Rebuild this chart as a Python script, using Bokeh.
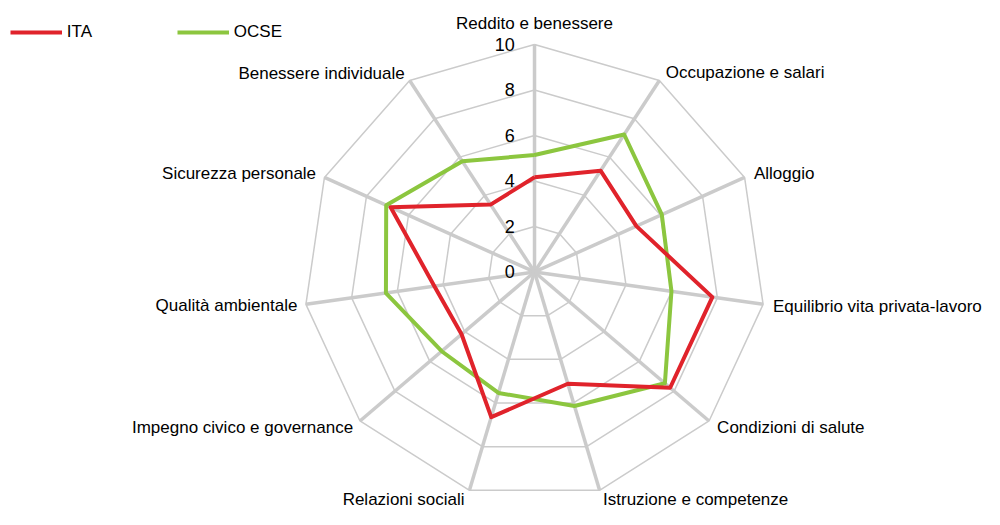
import numpy as np
from bokeh.plotting import figure
from bokeh.models import Range1d, ColumnDataSource, Legend, LegendItem
from bokeh.core.properties import value
from bokeh.embed import file_html
from bokeh.resources import INLINE

# ---------------- data ----------------
categories = [
    "Reddito e benessere",
    "Occupazione e salari",
    "Alloggio",
    "Equilibrio vita privata-lavoro",
    "Condizioni di salute",
    "Istruzione e competenze",
    "Relazioni sociali",
    "Impegno civico e governance",
    "Qualità ambientale",
    "Sicurezza personale",
    "Benessere individuale",
]
ita = [4.16, 5.29, 4.85, 7.78, 7.77, 5.12, 6.65, 4.18, 4.38, 6.85, 3.52]
ocse = [5.14, 7.18, 6.06, 5.99, 7.47, 6.14, 5.54, 5.32, 6.50, 7.06, 5.78]
tick_values = [0, 2, 4, 6, 8, 10]
tick_labels = ["0", "2", "4", "6", "8", "10"]
series_names = ["ITA", "OCSE"]

# ---------------- layout / style ----------------
W, H = 984, 509
KX, KY = W / 1000.0, H / 525.0          # fit the 1000x525 design into the figure
CX_PX, CY_PX = 542.7 * KX, 280.0 * KY   # radar centre (px from left / top)
SX, SY = 23.47 * KX, 23.47 * KY         # px per unit
RMAX = 10
FONT = "Liberation Sans"
FSIZE = "17px"
RED = "#e0232b"
GREEN = "#8cc63f"
GRID = "#cbcbcb"

# label offsets (px in the 1000x525 design) relative to outer vertex, and alignment
lab_dx = [0, 6.4, 9.5, 10, 8.2, 3.5, -5, -7, -8.7, -8.5, -5]
lab_dy = [-21.5, -8.6, -3.8, 1.9, 6.3, 9.8, 9.8, 7, 1.1, -3.7, -7.3]
lab_align = ["center", "left", "left", "left", "left", "left",
             "right", "right", "right", "right", "right"]

N = len(categories)
theta = np.pi / 2 - 2 * np.pi * np.arange(N) / N
cos_t, sin_t = np.cos(theta), np.sin(theta)

p = figure(
    width=W, height=H,
    x_range=Range1d(-CX_PX / SX, (W - CX_PX) / SX),
    y_range=Range1d(-(H - CY_PX) / SY, CY_PX / SY),
    output_backend="svg", toolbar_location=None,
    min_border=0, outline_line_color=None,
)
p.axis.visible = False
p.xgrid.visible = False
p.ygrid.visible = False
p.background_fill_color = "white"
p.border_fill_color = "white"

# rings
ring_levels = tick_values[1:]
xs = [list(lv * cos_t) + [lv * cos_t[0]] for lv in ring_levels]
ys = [list(lv * sin_t) + [lv * sin_t[0]] for lv in ring_levels]
p.multi_line(xs, ys, line_color=GRID, line_width=1.5)

# spokes
p.segment(x0=np.zeros(N), y0=np.zeros(N), x1=RMAX * cos_t, y1=RMAX * sin_t,
          line_color=GRID, line_width=3.5)

# series
def closed(vals):
    v = np.array(vals + vals[:1])
    c = np.append(cos_t, cos_t[0])
    s = np.append(sin_t, sin_t[0])
    return v * c, v * s

gx, gy = closed(ocse)
rx, ry = closed(ita)
r_ocse = p.line(gx, gy, line_color=GREEN, line_width=4, line_join="round")
r_ita = p.line(rx, ry, line_color=RED, line_width=4, line_join="round")

# category labels
src_lab = ColumnDataSource(dict(
    x=RMAX * cos_t, y=RMAX * sin_t, text=categories,
    dx=[d * KX for d in lab_dx], dy=[d * KY for d in lab_dy], align=lab_align,
))
p.text(x="x", y="y", text="text", x_offset="dx", y_offset="dy",
       text_align="align", text_baseline="middle", source=src_lab,
       text_font=value(FONT), text_font_size=FSIZE, text_color="black")

# tick labels along the vertical axis
src_tick = ColumnDataSource(dict(x=np.zeros(len(tick_values)), y=tick_values, text=tick_labels))
p.text(x="x", y="y", text="text", x_offset=-20 * KX, y_offset=0,
       text_align="right", text_baseline="middle", source=src_tick,
       text_font=value(FONT), text_font_size="18px", text_color="black")

# legend (location = bottom-left corner, px from the frame's bottom-left)
legend = Legend(
    items=[LegendItem(label=series_names[0], renderers=[r_ita]),
           LegendItem(label=series_names[1], renderers=[r_ocse])],
    orientation="horizontal", location=(10 * KX, H - 43.3 * KY),
    glyph_width=52, glyph_height=20, label_height=20, label_standoff=5, label_width=98,
    spacing=12, padding=0, margin=0,
    border_line_color=None, background_fill_alpha=0,
    label_text_font=FONT, label_text_font_size=FSIZE, label_text_color="black",
)
p.add_layout(legend)

open("out.html", "w").write(file_html(p, INLINE))
